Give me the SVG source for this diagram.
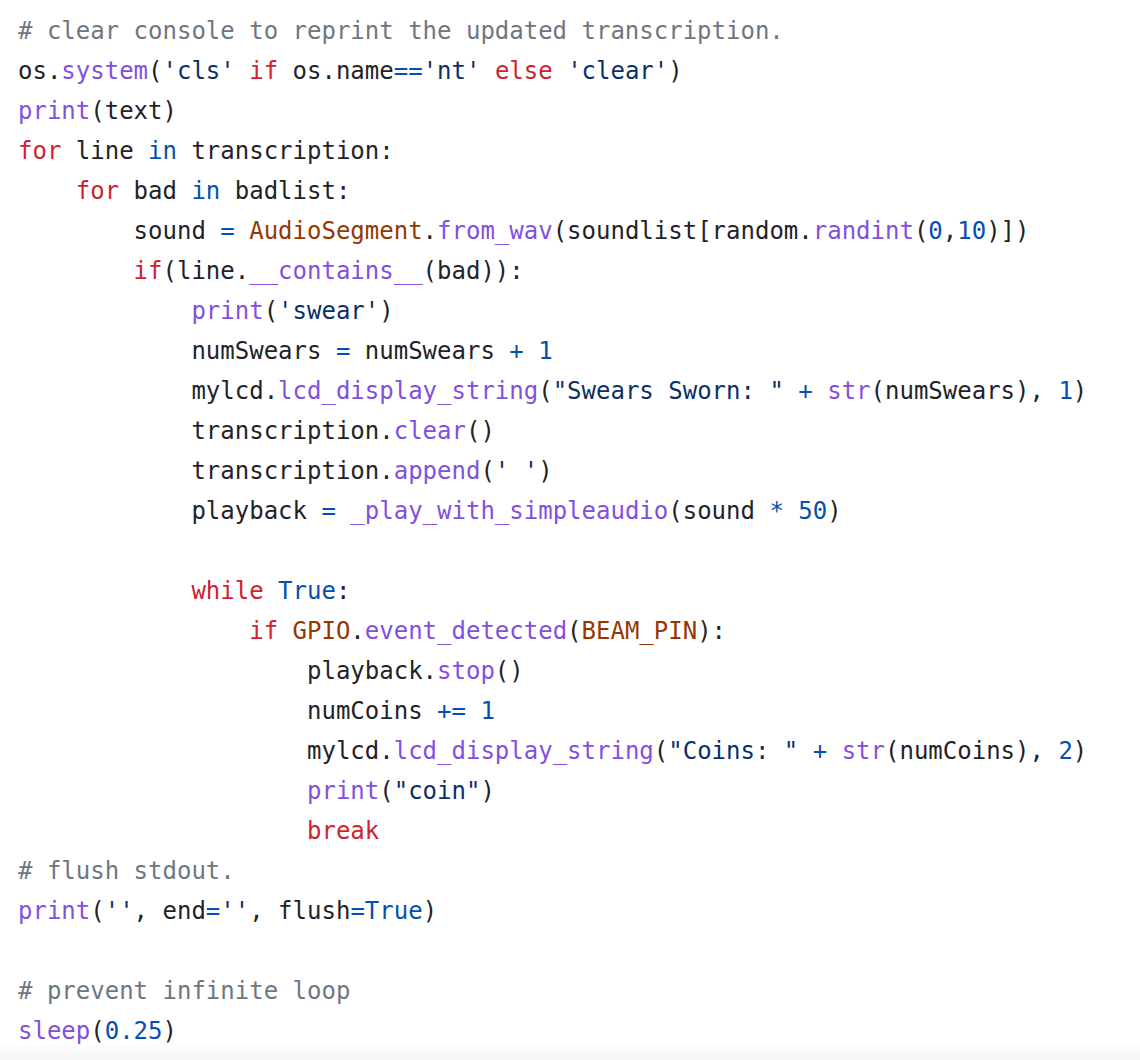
<svg xmlns="http://www.w3.org/2000/svg" width="1140" height="1060" viewBox="0 0 1140 1060">
<defs>
<linearGradient id="fade" x1="0" y1="0" x2="0" y2="1">
<stop offset="0" stop-color="#ffffff"/>
<stop offset="1" stop-color="#f6f6f6"/>
</linearGradient>
<style>
text{font-family:"DejaVu Sans Mono","Liberation Mono",monospace;font-size:24px;fill:#1f2328;white-space:pre}
.c{fill:#6e7781}
.k{fill:#cf222e}
.f{fill:#8250df}
.s{fill:#0a3069}
.n{fill:#0550ae}
.e{fill:#953800}
</style>
</defs>
<rect x="0" y="0" width="1140" height="1060" fill="#ffffff"/>
<rect x="0" y="1040" width="1140" height="20" fill="url(#fade)"/>
<g id="code" xml:space="preserve">
<text x="18" y="39" class="c"># clear console to reprint the updated transcription.</text>
<text x="18" y="79">os.<tspan class="f">system</tspan>(<tspan class="s">'cls'</tspan> <tspan class="k">if</tspan> os.name<tspan class="n">==</tspan><tspan class="s">'nt'</tspan> <tspan class="k">else</tspan> <tspan class="s">'clear'</tspan>)</text>
<text x="18" y="119"><tspan class="f">print</tspan>(text)</text>
<text x="18" y="159"><tspan class="k">for</tspan> line <tspan class="n">in</tspan> transcription:</text>
<text x="75.8" y="199"><tspan class="k">for</tspan> bad <tspan class="n">in</tspan> badlist:</text>
<text x="133.6" y="239">sound <tspan class="n">=</tspan> <tspan class="e">AudioSegment</tspan>.<tspan class="f">from_wav</tspan>(soundlist[random.<tspan class="f">randint</tspan>(<tspan class="n">0</tspan>,<tspan class="n">10</tspan>)])</text>
<text x="133.6" y="279"><tspan class="k">if</tspan>(line.<tspan class="f">__contains__</tspan>(bad)):</text>
<text x="191.4" y="319"><tspan class="f">print</tspan>(<tspan class="s">'swear'</tspan>)</text>
<text x="191.4" y="359">numSwears <tspan class="n">=</tspan> numSwears <tspan class="n">+</tspan> <tspan class="n">1</tspan></text>
<text x="191.4" y="399">mylcd.<tspan class="f">lcd_display_string</tspan>(<tspan class="s">"Swears Sworn: "</tspan> <tspan class="n">+</tspan> <tspan class="f">str</tspan>(numSwears), <tspan class="n">1</tspan>)</text>
<text x="191.4" y="439">transcription.<tspan class="f">clear</tspan>()</text>
<text x="191.4" y="479">transcription.<tspan class="f">append</tspan>(<tspan class="s">' '</tspan>)</text>
<text x="191.4" y="519">playback <tspan class="n">=</tspan> <tspan class="f">_play_with_simpleaudio</tspan>(sound <tspan class="n">*</tspan> <tspan class="n">50</tspan>)</text>
<text x="191.4" y="599"><tspan class="k">while</tspan> <tspan class="n">True</tspan>:</text>
<text x="249.2" y="639"><tspan class="k">if</tspan> <tspan class="e">GPIO</tspan>.<tspan class="f">event_detected</tspan>(<tspan class="e">BEAM_PIN</tspan>):</text>
<text x="307" y="679">playback.<tspan class="f">stop</tspan>()</text>
<text x="307" y="719">numCoins <tspan class="n">+=</tspan> <tspan class="n">1</tspan></text>
<text x="307" y="759">mylcd.<tspan class="f">lcd_display_string</tspan>(<tspan class="s">"Coins: "</tspan> <tspan class="n">+</tspan> <tspan class="f">str</tspan>(numCoins), <tspan class="n">2</tspan>)</text>
<text x="307" y="799"><tspan class="f">print</tspan>(<tspan class="s">"coin"</tspan>)</text>
<text x="307" y="839" class="k">break</text>
<text x="18" y="879" class="c"># flush stdout.</text>
<text x="18" y="919"><tspan class="f">print</tspan>(<tspan class="s">''</tspan>, end<tspan class="n">=</tspan><tspan class="s">''</tspan>, flush<tspan class="n">=True</tspan>)</text>
<text x="18" y="999" class="c"># prevent infinite loop</text>
<text x="18" y="1039"><tspan class="f">sleep</tspan>(<tspan class="n">0.25</tspan>)</text>
</g>
</svg>
